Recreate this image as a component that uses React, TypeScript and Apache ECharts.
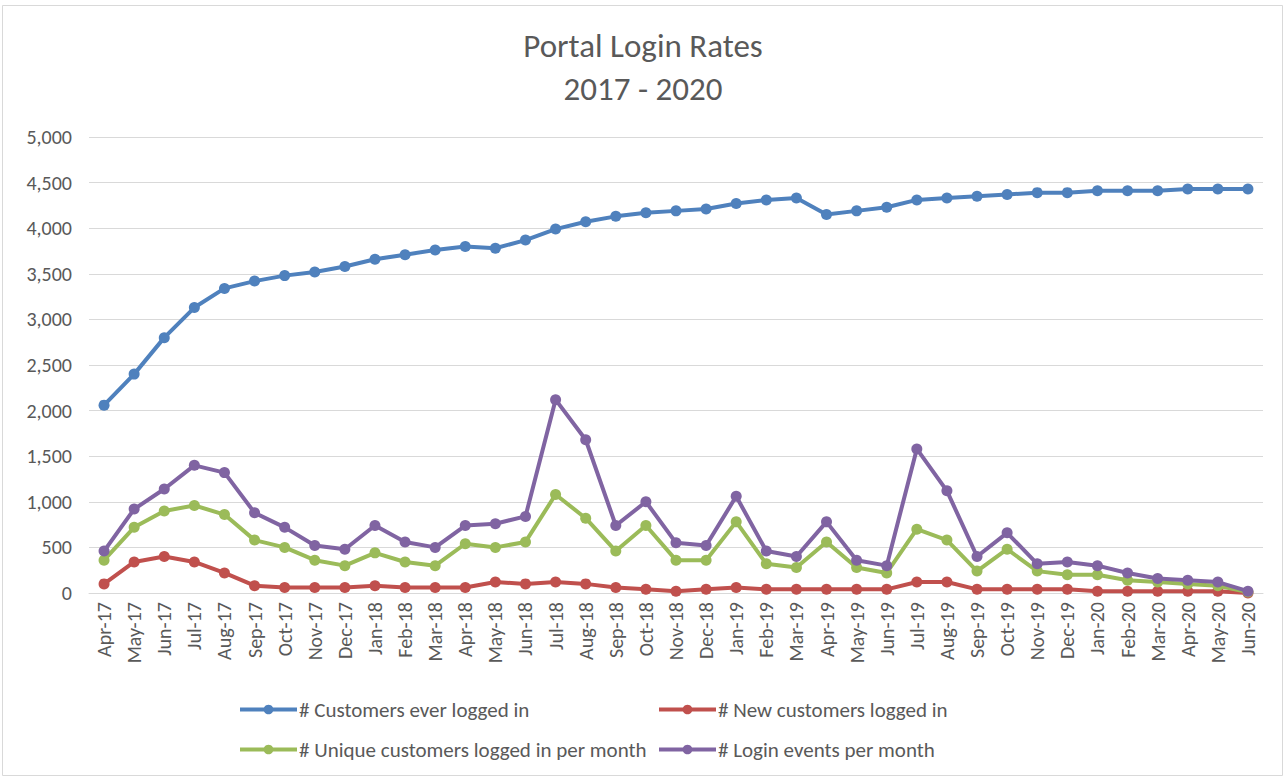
import React, { useEffect, useRef } from "react";
import * as echarts from "echarts";

const categories = [
  "Apr-17", "May-17", "Jun-17", "Jul-17", "Aug-17", "Sep-17", "Oct-17", "Nov-17", "Dec-17",
  "Jan-18", "Feb-18", "Mar-18", "Apr-18", "May-18", "Jun-18", "Jul-18", "Aug-18", "Sep-18",
  "Oct-18", "Nov-18", "Dec-18", "Jan-19", "Feb-19", "Mar-19", "Apr-19", "May-19", "Jun-19",
  "Jul-19", "Aug-19", "Sep-19", "Oct-19", "Nov-19", "Dec-19", "Jan-20", "Feb-20", "Mar-20",
  "Apr-20", "May-20", "Jun-20",
];

const customersEver = [
  2060, 2400, 2800, 3130, 3340, 3420, 3480, 3520, 3580, 3660, 3710, 3760, 3800, 3780, 3870,
  3990, 4070, 4130, 4170, 4190, 4210, 4270, 4310, 4330, 4150, 4190, 4230, 4310, 4330, 4350,
  4370, 4390, 4390, 4410, 4410, 4410, 4430, 4430, 4430,
];

const newCustomers = [
  100, 340, 400, 340, 220, 80, 60, 60, 60, 80, 60, 60, 60, 120, 100, 120, 100, 60, 40, 20, 40,
  60, 40, 40, 40, 40, 40, 120, 120, 40, 40, 40, 40, 20, 20, 20, 20, 20, 0,
];

const uniqueCustomers = [
  360, 720, 900, 960, 860, 580, 500, 360, 300, 440, 340, 300, 540, 500, 560, 1080, 820, 460,
  740, 360, 360, 780, 320, 280, 560, 280, 220, 700, 580, 240, 480, 240, 200, 200, 140, 120,
  100, 80, 10,
];

const loginEvents = [
  460, 920, 1140, 1400, 1320, 880, 720, 520, 480, 740, 560, 500, 740, 760, 840, 2120, 1680,
  740, 1000, 550, 520, 1060, 460, 400, 780, 360, 300, 1580, 1120, 400, 660, 320, 340, 300, 220,
  160, 140, 120, 20,
];

const seriesNames = [
  "# Customers ever logged in",
  "# New customers logged in",
  "# Unique customers logged in per month",
  "# Login events per month",
];
const colors = ["#4F81BD", "#C0504D", "#9BBB59", "#8064A2"];

const FONT = "Carlito, Calibri, 'Liberation Sans Narrow', 'Open Sans', sans-serif";
const TEXT = "#595959";

export default function App() {
  const ref = useRef<HTMLDivElement>(null);

  useEffect(() => {
    document.body.style.margin = "0";
    if (!ref.current) return;
    const chart = echarts.init(ref.current, undefined, { renderer: "svg" });
    const datasets = [customersEver, newCustomers, uniqueCustomers, loginEvents];
    const legendText = { fontFamily: FONT, fontSize: 21, color: TEXT, padding: [0, 0, 0, -3] };
    const legendBase = {
      orient: "vertical",
      top: 694,
      itemGap: 19,
      itemWidth: 57,
      itemHeight: 12,
      lineStyle: { width: 4 },
      textStyle: legendText,
    };
    chart.setOption({
      animation: false,
      backgroundColor: "#ffffff",
      textStyle: { fontFamily: FONT },
      title: {
        text: "Portal Login Rates\n2017 - 2020",
        left: "center",
        top: 19,
        textStyle: {
          fontFamily: FONT,
          fontSize: 33,
          fontWeight: "normal",
          color: TEXT,
          lineHeight: 43,
        },
      },
      graphic: [
        {
          type: "rect",
          shape: { x: 2.5, y: 5.5, width: 1280, height: 770 },
          style: { fill: "none", stroke: "#d9d9d9", lineWidth: 1 },
          silent: true,
        },
      ],
      legend: [
        { ...legendBase, data: [seriesNames[0], seriesNames[2]], left: 233 },
        { ...legendBase, data: [seriesNames[1], seriesNames[3]], left: 652 },
      ],
      grid: { left: 89, right: 23, top: 137, bottom: 185, containLabel: false },
      xAxis: {
        type: "category",
        data: categories,
        boundaryGap: true,
        axisLine: { lineStyle: { color: "#d9d9d9", width: 1 } },
        axisTick: { show: false },
        axisLabel: {
          rotate: 90,
          interval: 0,
          fontFamily: FONT,
          fontSize: 20,
          color: TEXT,
          margin: 9,
        },
      },
      yAxis: {
        type: "value",
        min: 0,
        max: 5000,
        interval: 500,
        axisLine: { show: false },
        axisTick: { show: false },
        splitLine: { lineStyle: { color: "#d9d9d9", width: 1 } },
        axisLabel: {
          fontFamily: FONT,
          fontSize: 20,
          color: TEXT,
          margin: 17,
          formatter: (v: number) => v.toLocaleString("en-US"),
        },
      },
      series: seriesNames.map((name, i) => ({
        name,
        type: "line",
        data: datasets[i],
        symbol: "circle",
        symbolSize: 11,
        showSymbol: true,
        lineStyle: { width: 4, color: colors[i] },
        itemStyle: { color: colors[i] },
        z: 2 + i,
      })),
    });
    return () => chart.dispose();
  }, []);

  return <div ref={ref} style={{ width: 1286, height: 778 }} />;
}
